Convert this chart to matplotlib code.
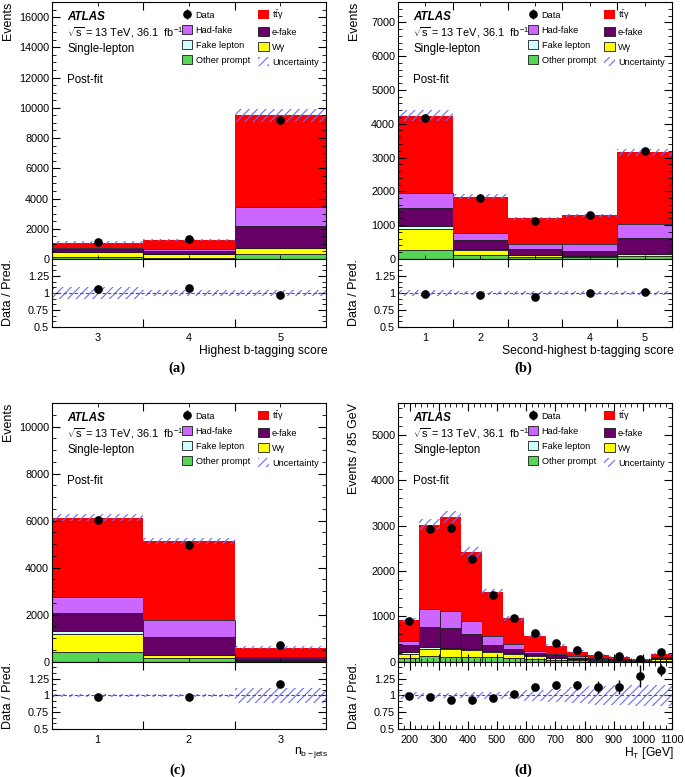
import numpy as np
import matplotlib
matplotlib.use("Agg")
import matplotlib.pyplot as plt
from matplotlib.patches import Patch
from matplotlib.ticker import MultipleLocator, AutoMinorLocator

plt.rcParams['font.family'] = ['Liberation Sans', 'DejaVu Sans']
plt.rcParams['mathtext.fontset'] = 'custom'
plt.rcParams['mathtext.rm'] = 'Liberation Sans'
plt.rcParams['mathtext.it'] = 'Liberation Sans:italic'
plt.rcParams['mathtext.bf'] = 'Liberation Sans:bold'
plt.rcParams['hatch.linewidth'] = 0.8

W, H = 685, 777

# stack order, bottom to top
names = ['Other prompt', 'Wγ', 'Fake lepton', 'e-fake', 'Had-fake', r'$\mathrm{t\bar{t}}$γ']
colors = ['#55d655', '#ffff00', '#ccffff', '#660066', '#cc66ff', '#ff0000']
unc_color = '#6a6aff'

# (a) highest b-tagging score
a_bins = [3, 4, 5]
a_prompt = [100, 90, 330]
a_wgam = [340, 220, 375]
a_fakelep = [20, 20, 20]
a_efake = [220, 225, 1456]
a_hadfake = [60, 115, 1233]
a_ttgam = [335, 597, 6101]
a_data = [1140, 1356, 9170]
a_unc = [0.093, 0.05, 0.045]

# (b) second-highest b-tagging score
b_bins = [1, 2, 3, 4, 5]
b_prompt = [265, 118, 60, 50, 88]
b_wgam = [608, 160, 50, 38, 49]
b_fakelep = [97, 16, 10, 10, 10]
b_efake = [550, 265, 174, 147, 461]
b_hadfake = [441, 196, 137, 186, 441]
b_ttgam = [2279, 1090, 779, 859, 2108]
b_data = [4180, 1800, 1135, 1295, 3195]
b_unc = [0.04, 0.035, 0.035, 0.035, 0.035]

# (c) number of b-jets
c_bins = [1, 2, 3]
c_prompt = [425, 150, 30]
c_wgam = [738, 140, 40]
c_fakelep = [140, 12, 5]
c_efake = [780, 750, 109]
c_hadfake = [681, 737, 29]
c_ttgam = [3362, 3334, 383]
c_data = [6020, 4970, 700]
c_unc = [0.025, 0.025, 0.11]

# (d) HT
d_edges = [160, 232.3, 304.6, 376.9, 449.2, 521.5, 593.8, 666.2, 738.5, 810.8, 883.1, 955.4, 1027.7, 1100]
d_prompt = [89, 126, 111, 111, 100, 74, 59, 40, 30, 25, 20, 8, 25]
d_wgam = [74, 164, 164, 149, 115, 89, 67, 40, 30, 20, 15, 7, 35]
d_fakelep = [52, 44, 37, 29, 22, 22, 14, 9, 5, 5, 5, 3, 5]
d_efake = [156, 438, 430, 319, 126, 89, 45, 52, 24, 17, 15, 7, 24]
d_hadfake = [89, 393, 386, 297, 193, 112, 52, 22, 37, 7, 12, 5, 15]
d_ttgam = [460, 1854, 2055, 1521, 980, 571, 334, 186, 97, 67, 44, 22, 59]
d_data = [905, 2930, 2940, 2255, 1465, 970, 640, 404, 256, 158, 125, 67, 224]
d_unc = [0.05, 0.04, 0.04, 0.045, 0.05, 0.06, 0.08, 0.1, 0.12, 0.14, 0.15, 0.16, 0.16]


def style_ticks(ax, fs=7.8):
    ax.tick_params(which='both', direction='in', top=True, right=True, labelsize=fs, pad=2)
    ax.tick_params(which='major', length=6)
    ax.tick_params(which='minor', length=3)


def draw_panel(fig, box, edges, comps, data, unc, ymax, ymajor, ynminor,
               xlabel, ylabel, letter, centers_lbl=None):
    l, r, top, mid, bot = box
    ax = fig.add_axes([l / W, 1 - mid / H, (r - l) / W, (mid - top) / H])
    rax = fig.add_axes([l / W, 1 - bot / H, (r - l) / W, (bot - mid) / H], sharex=ax)

    edges = np.asarray(edges, dtype=float)
    left = edges[:-1]
    width = np.diff(edges)
    centers = left + width / 2
    comps = [np.asarray(c, dtype=float) for c in comps]
    data = np.asarray(data, dtype=float)
    unc = np.asarray(unc, dtype=float)

    bottom = np.zeros(len(left))
    patches = []
    for vals, col in zip(comps, colors):
        ec = 'none' if col == '#ff0000' else '#1a1a1a'
        ax.bar(left, vals, width, bottom=bottom, align='edge', color=col,
               edgecolor=ec, linewidth=0.6)
        patches.append(Patch(facecolor=col, edgecolor='#1a1a1a' if col != '#ff0000' else 'none',
                             linewidth=0.6))
        bottom = bottom + vals
    total = bottom

    ax.bar(left, 2 * total * unc, width, bottom=total * (1 - unc), align='edge',
           facecolor='none', edgecolor=unc_color, hatch='////', linewidth=0)
    dat = ax.errorbar(centers, data, yerr=np.sqrt(data), fmt='o', color='black',
                      ms=5.2, elinewidth=1, capsize=0)

    ax.set_xlim(edges[0], edges[-1])
    ax.set_ylim(0, ymax)
    ax.yaxis.set_major_locator(MultipleLocator(ymajor))
    ax.yaxis.set_minor_locator(AutoMinorLocator(ynminor))
    style_ticks(ax)
    ax.tick_params(axis='x', labelbottom=False)

    # ratio panel
    rax.bar(left, 2 * unc, width, bottom=1 - unc, align='edge', facecolor='none',
            edgecolor=unc_color, hatch='////', linewidth=0)
    rax.axhline(1, color='#555555', ls='--', lw=0.8, dashes=(3, 2))
    rax.errorbar(centers, data / total, yerr=np.sqrt(data) / total, fmt='o',
                 color='black', ms=5.2, elinewidth=1, capsize=0)
    rax.set_ylim(0.5, 1.5)
    rax.set_yticks([0.5, 0.75, 1, 1.25])
    rax.set_yticklabels(['0.5', '0.75', '1', '1.25'])
    rax.yaxis.set_minor_locator(AutoMinorLocator(3))
    style_ticks(rax)
    if centers_lbl is not None:
        rax.set_xticks(edges[1:-1])
        rax.set_xticklabels([])
        rax.set_xticks(centers, minor=True)
        rax.set_xticklabels([str(c) for c in centers_lbl], minor=True)
        rax.tick_params(axis='x', which='minor', length=0, pad=4)
    else:
        rax.xaxis.set_major_locator(MultipleLocator(100))
        rax.xaxis.set_minor_locator(AutoMinorLocator(5))
        rax.tick_params(axis='x', which='major', pad=4)
        ax.tick_params(axis='x', labelbottom=False)

    # legend
    handles = [dat, patches[4], patches[2], patches[0],
               patches[5], patches[3], patches[1],
               Patch(facecolor='none', edgecolor=unc_color, hatch='////', linewidth=0)]
    labels = ['Data', names[4], names[2], names[0], names[5], names[3], names[1], 'Uncertainty']
    ax.legend(handles, labels, ncol=2, loc='upper left', bbox_to_anchor=(0.452, 1.0),
              frameon=False, fontsize=6.6, handlelength=1.15, handleheight=1.1,
              labelspacing=0.6, handletextpad=0.35, columnspacing=0.9,
              borderaxespad=0.35, borderpad=0.3)

    # ATLAS labels
    hpx = mid - top
    xt = 0.055
    ax.text(xt, 1 - 15 / hpx, 'ATLAS', transform=ax.transAxes, fontsize=8.4,
            fontweight='bold', fontstyle='italic', va='center')
    ax.text(xt, 1 - 31 / hpx, r'$\sqrt{\mathrm{s}}$ = 13 TeV, 36.1  fb$^{\mathrm{-1}}$',
            transform=ax.transAxes, fontsize=7.9, va='center')
    ax.text(xt, 1 - 47 / hpx, 'Single-lepton', transform=ax.transAxes, fontsize=8.3, va='center')
    ax.text(xt, 1 - 78 / hpx, 'Post-fit', transform=ax.transAxes, fontsize=8.3, va='center')

    # axis titles
    fig.text((l - 44) / W, 1 - top / H, ylabel, rotation=90, ha='center', va='top', fontsize=9)
    fig.text((l - 44) / W, 1 - (mid + bot) / 2 / H, 'Data / Pred.', rotation=90,
             ha='center', va='center', fontsize=9)
    fig.text((r + 2) / W, 1 - (bot + 24) / H, xlabel, ha='right', va='center', fontsize=8.7)
    fig.text((l + 125) / W, 1 - (bot + 41) / H, letter, ha='center', va='center',
             fontsize=10.5, fontweight='bold', family='Liberation Serif')


fig = plt.figure(figsize=(W / 100, H / 100), dpi=100)

draw_panel(fig, (52, 326, 2, 259, 327),
           np.concatenate([np.array(a_bins) - 0.5, [a_bins[-1] + 0.5]]),
           [a_prompt, a_wgam, a_fakelep, a_efake, a_hadfake, a_ttgam],
           a_data, a_unc, 17000, 2000, 4,
           'Highest b-tagging score', 'Events', '(a)', centers_lbl=a_bins)

draw_panel(fig, (398, 672, 2, 259, 327),
           np.concatenate([np.array(b_bins) - 0.5, [b_bins[-1] + 0.5]]),
           [b_prompt, b_wgam, b_fakelep, b_efake, b_hadfake, b_ttgam],
           b_data, b_unc, 7600, 1000, 5,
           'Second-highest b-tagging score', 'Events', '(b)', centers_lbl=b_bins)

draw_panel(fig, (52, 326, 403, 661.7, 729),
           np.concatenate([np.array(c_bins) - 0.5, [c_bins[-1] + 0.5]]),
           [c_prompt, c_wgam, c_fakelep, c_efake, c_hadfake, c_ttgam],
           c_data, c_unc, 11000, 2000, 4,
           r'$\mathrm{n_{b-jets}}$', 'Events', '(c)', centers_lbl=c_bins)

draw_panel(fig, (398, 672, 403, 661.7, 729), d_edges,
           [d_prompt, d_wgam, d_fakelep, d_efake, d_hadfake, d_ttgam],
           d_data, d_unc, 5700, 1000, 5,
           r'$\mathrm{H_T}$ [GeV]', 'Events / 85 GeV', '(d)')

fig.savefig('out.png', dpi=100)
